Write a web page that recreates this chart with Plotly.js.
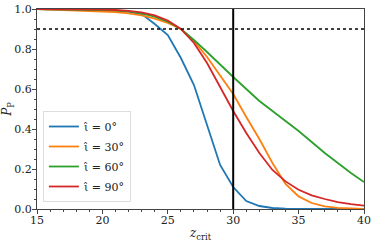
<!DOCTYPE html>
<html><head><meta charset="utf-8">
<script src="https://cdn.plot.ly/plotly-3.0.1.min.js"></script>
<style>body{margin:0;padding:0;background:#fff}#c{width:374px;height:243px}</style>
</head><body><div id="c"></div>
<script>
const zcrit = [15,16,17,18,19,20,21,22,23,24,25,26,27,28,29,30,31,32,33,34,35,36,37,38,39,40];
const p0  = [1.0,0.999,0.998,0.997,0.996,0.995,0.992,0.987,0.975,0.925,0.87,0.755,0.62,0.42,0.22,0.11,0.04,0.015,0.005,0.002,0.001,0,0,0,0,0];
const p30 = [1.0,0.998,0.995,0.993,0.991,0.989,0.985,0.978,0.968,0.952,0.93,0.9,0.84,0.76,0.67,0.575,0.46,0.35,0.23,0.125,0.063,0.03,0.013,0.006,0.003,0.001];
const p60 = [1.0,0.999,0.998,0.997,0.996,0.995,0.993,0.988,0.978,0.962,0.937,0.9,0.845,0.785,0.72,0.66,0.6,0.54,0.49,0.44,0.39,0.335,0.28,0.23,0.18,0.135];
const p90 = [1.0,1.0,0.999,0.999,0.998,0.997,0.995,0.991,0.983,0.968,0.942,0.9,0.83,0.73,0.61,0.49,0.38,0.28,0.195,0.138,0.096,0.068,0.05,0.034,0.024,0.017];
const seriesNames = ['ι̂ = 0°','ι̂ = 30°','ι̂ = 60°','ι̂ = 90°'];
const seriesData = [p0,p30,p60,p90];
const colors = ['#1f77b4','#ff7f0e','#2ca02c','#d62728'];
const zVertical = 30;
const pThreshold = 0.9;
const xTicks = [15,20,25,30,35,40];
const yTicks = [0.0,0.2,0.4,0.6,0.8,1.0];

const traces = seriesData.map((d,i)=>({
  x: zcrit, y: d, type:'scatter', mode:'lines', name: seriesNames[i],
  legendgroup:'g'+i,
  line:{color:colors[i], width:1.8}
}));
traces.push({x:[15,40], y:[pThreshold,pThreshold], mode:'lines', showlegend:false,
  line:{color:'#000', width:1.6, dash:'dot'}, hoverinfo:'skip'});
traces.push({x:[zVertical,zVertical], y:[0,1], mode:'lines', showlegend:false,
  line:{color:'#000', width:2}, hoverinfo:'skip'});

const fam = 'DejaVu Serif';
const layout = {
  width:374, height:243,
  margin:{l:37, r:10, t:9, b:34},
  paper_bgcolor:'#fff', plot_bgcolor:'#fff',
  font: {family:fam, size:11, color:'#222'},
  showlegend:true,
  legend:{x:0.018, y:0.035, xanchor:'left', yanchor:'bottom',
    bgcolor:'rgba(255,255,255,0.85)', bordercolor:'#ddd', borderwidth:1,
    font:{family:fam, size:11, color:'#222'}, tracegroupgap:1, itemwidth:30},
  xaxis:{range:[15,40], tickvals:xTicks, ticktext:xTicks.map(String),
    showgrid:false, zeroline:false, showline:true, mirror:true, linecolor:'#444', linewidth:1,
    ticks:'outside', ticklen:4, tickcolor:'#444', tickfont:{family:fam, size:11},
    ticklabelstandoff:-3,
    minor:{dtick:1, ticks:'outside', ticklen:2, tickcolor:'#444'},
    title:{text:'<i>z</i><sub>crit</sub>', font:{family:fam, size:12}, standoff:2}},
  yaxis:{range:[0,1], tickvals:yTicks, ticktext:yTicks.map(v=>v.toFixed(1)),
    showgrid:false, zeroline:false, showline:true, mirror:true, linecolor:'#444', linewidth:1,
    ticks:'outside', ticklen:4, tickcolor:'#444', tickfont:{family:fam, size:11},
    ticklabelstandoff:-2,
    minor:{dtick:0.05, ticks:'outside', ticklen:2, tickcolor:'#444'},
    title:{text:'<i>P</i><sub>P</sub>', font:{family:fam, size:12}, standoff:2}}
};
Plotly.newPlot('c', traces, layout, {displayModeBar:false});
</script>
</body></html>
